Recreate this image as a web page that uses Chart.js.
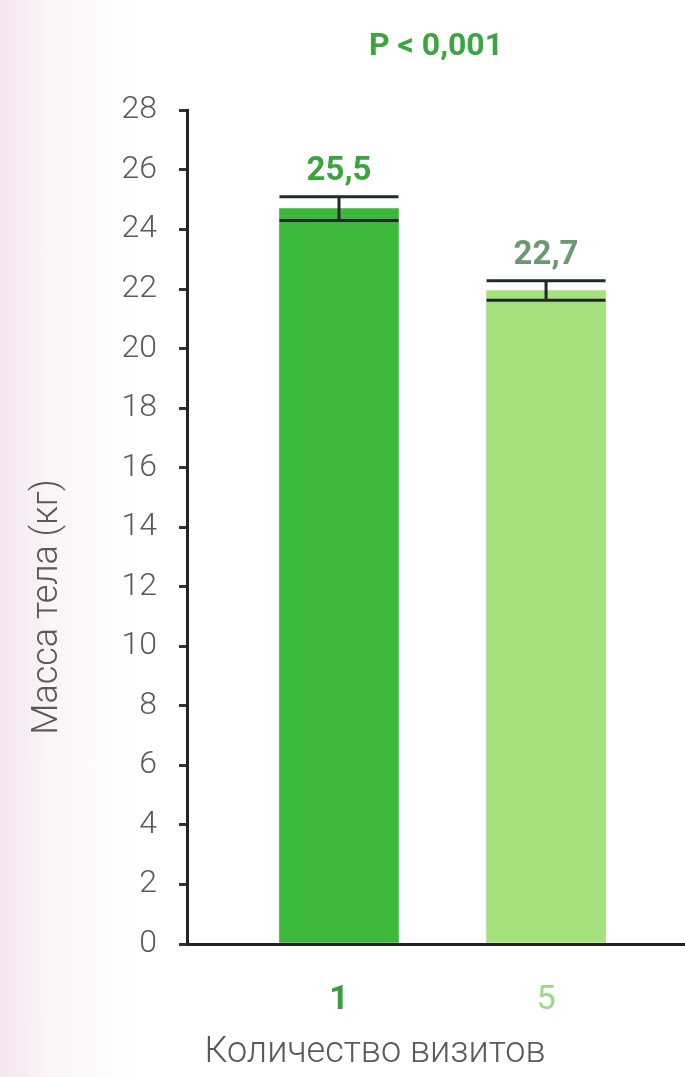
<!DOCTYPE html>
<html lang="ru">
<head>
<meta charset="utf-8">
<title>Масса тела</title>
<script src="https://cdn.jsdelivr.net/npm/chart.js@4"></script>
<style>
  html, body { margin: 0; padding: 0; }
  body {
    width: 685px; height: 1077px; overflow: hidden;
    background: linear-gradient(to right, #f5e6f0 0px, #fbf4f8 50px, #ffffff 140px);
  }
  #massa { display: block; }
</style>
</head>
<body>
<canvas id="massa" width="685" height="1077"></canvas>
<script>
// Данные графика
const categorias = ['1', '5'];
const valores = [24.7, 21.95];
const erros = [0.4, 0.33];
const rotulos = ['25,5', '22,7'];
const coresBarras = ['#3cb83b', '#a5e17c'];
const coresRotulos = ['#3aa53c', '#6b9a70'];
const coresCategorias = ['#3a9d3c', '#9cd986'];
const yTicks = [0, 2, 4, 6, 8, 10, 12, 14, 16, 18, 20, 22, 24, 26, 28];

const fonte = 'Roboto, "DejaVu Sans", sans-serif';

document.addEventListener('DOMContentLoaded', function(){
    montarGrafico();
});

// barras de erro + valores acima
const pluginErros = {
    id: 'erros',
    afterDatasetsDraw(chart) {
        const ctx = chart.ctx;
        const y = chart.scales.y;
        const meta = chart.getDatasetMeta(0);
        ctx.save();
        meta.data.forEach(function(barra, i){
            const cx = barra.x;
            const meia = barra.width / 2;
            const topo = y.getPixelForValue(valores[i] + erros[i]);
            const base = y.getPixelForValue(valores[i] - erros[i]);
            ctx.strokeStyle = '#1e2b2b';
            ctx.lineWidth = 3;
            ctx.beginPath();
            ctx.moveTo(cx - meia, topo); ctx.lineTo(cx + meia, topo);
            ctx.moveTo(cx - meia, base); ctx.lineTo(cx + meia, base);
            ctx.moveTo(cx, topo); ctx.lineTo(cx, base);
            ctx.stroke();

            ctx.fillStyle = coresRotulos[i];
            ctx.font = 'bold 33px ' + fonte;
            ctx.textAlign = 'center';
            ctx.textBaseline = 'middle';
            ctx.fillText(rotulos[i], cx, topo - 25);
        });
        ctx.restore();
    }
};

// títulos dos eixos
const pluginTitulos = {
    id: 'titulos',
    afterDraw(chart) {
        const ctx = chart.ctx;
        ctx.save();
        ctx.fillStyle = '#5a5a5a';
        ctx.font = '300 36px ' + fonte;
        ctx.textAlign = 'center';
        ctx.textBaseline = 'middle';
        ctx.fillText('Количество визитов', 375, 1053);
        ctx.translate(48, 607);
        ctx.rotate(-Math.PI / 2);
        ctx.fillText('Масса тела (кг)', 0, 0);
        ctx.restore();
    }
};

function montarGrafico() {
    const ctx = document.getElementById('massa');
    new Chart(ctx, {
        type: 'bar',
        data: {
            datasets: [{
                data: categorias.map(function(c, i){ return { x: i, y: valores[i] }; }),
                backgroundColor: coresBarras,
                borderWidth: 0,
                barThickness: 119
            }]
        },
        plugins: [pluginErros, pluginTitulos],
        options: {
            responsive: false,
            animation: false,
            layout: { padding: { left: 0, right: 0, top: 0, bottom: 0 } },
            plugins: {
                legend: { display: false },
                tooltip: { enabled: false },
                title: {
                    display: true,
                    text: 'P < 0,001',
                    fullSize: false,
                    color: '#3aa640',
                    font: { family: fonte, size: 32, weight: 'bold' },
                    padding: { top: 28, bottom: 44 }
                }
            },
            scales: {
                x: {
                    type: 'linear',
                    offset: false,
                    min: -0.734,
                    max: 1.671,
                    afterBuildTicks: function(axis){
                        axis.ticks = categorias.map(function(c, i){ return { value: i }; });
                    },
                    afterFit: function(axis){ axis.height = 133; },
                    grid: { display: false },
                    border: { display: true, color: '#222', width: 3 },
                    ticks: {
                        padding: 28,
                        color: function(c){ return coresCategorias[c.index]; },
                        font: function(c){
                            return { family: fonte, size: 34, weight: c.index === 0 ? 'bold' : 'normal' };
                        },
                        callback: function(v){ return categorias[v]; }
                    }
                },
                y: {
                    min: 0,
                    max: 28,
                    afterBuildTicks: function(axis){
                        axis.ticks = yTicks.map(function(v){ return { value: v }; });
                    },
                    afterFit: function(axis){ axis.width = 187; },
                    grid: {
                        drawOnChartArea: false,
                        tickLength: 8,
                        color: '#333',
                        lineWidth: 3
                    },
                    border: { display: true, color: '#222', width: 3 },
                    ticks: {
                        padding: 22,
                        color: '#5a5a5a',
                        font: { family: fonte, size: 32, weight: '300' }
                    }
                }
            }
        }
    });
}
</script>
</body>
</html>
